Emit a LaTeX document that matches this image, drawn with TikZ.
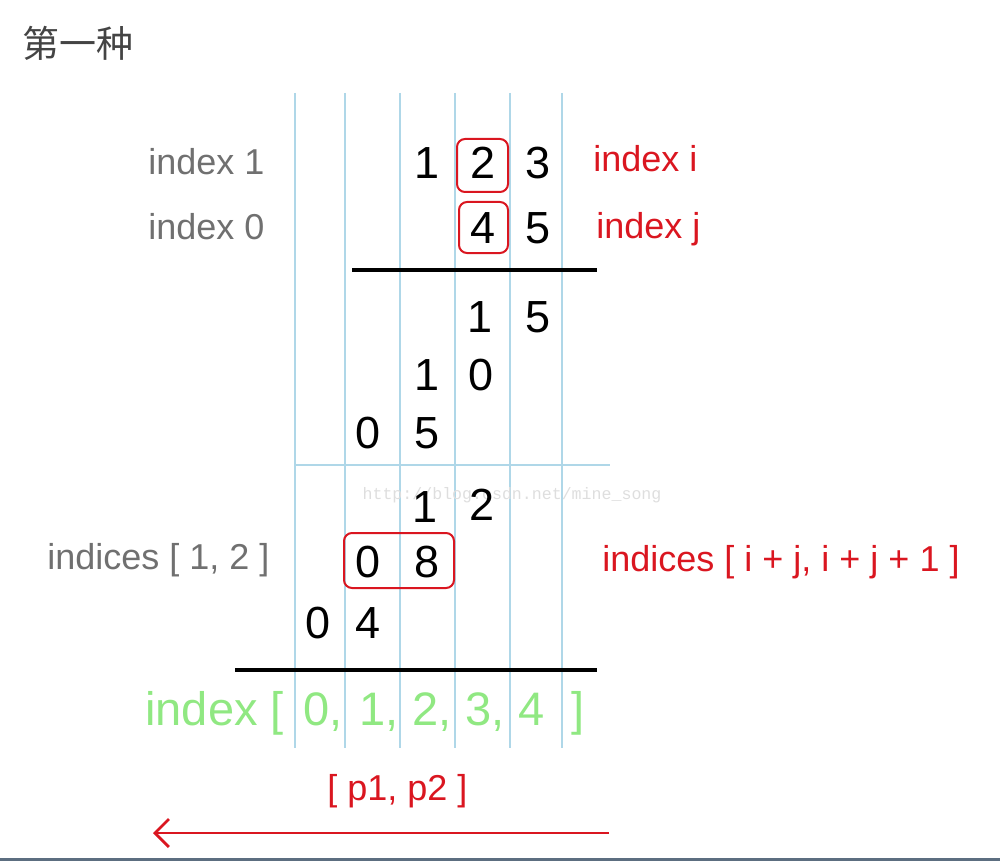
\documentclass[tikz,border=0pt]{standalone}
\usepackage{fontspec}
\setmainfont{Liberation Sans}
\newfontfamily\cjkfont{Noto Sans CJK SC}
\newfontfamily\urlfont{Liberation Mono}
\usetikzlibrary{arrows.meta}
\definecolor{gridblue}{RGB}{175,215,232}
\definecolor{markred}{RGB}{218,22,32}
\definecolor{labelgray}{RGB}{112,112,112}
\definecolor{idxgreen}{RGB}{144,232,130}
\definecolor{titlegray}{RGB}{68,68,68}
\definecolor{framebar}{RGB}{92,110,128}
\definecolor{markgray}{RGB}{222,222,222}
\tikzset{
    digit/.style={
        black,
        inner sep=0pt,
        font=\fontsize{22.5}{26}\selectfont
    },
    graylabel/.style={
        labelgray,
        anchor=base west,
        inner sep=0pt,
        font=\fontsize{18}{21}\selectfont
    },
    redlabel/.style={
        markred,
        anchor=base west,
        inner sep=0pt,
        font=\fontsize{18}{21}\selectfont
    },
    greenlabel/.style={
        idxgreen,
        anchor=base,
        inner sep=0pt,
        font=\fontsize{23.5}{28}\selectfont
    },
    gridline/.style={gridblue, line width=1pt},
    sumline/.style={black, line width=1.6pt},
    pickbox/.style={markred, line width=1pt, rounded corners=4pt},
    redarrow/.style={
        markred,
        line width=1.4pt,
        -{Straight Barb[length=7pt, width=14pt]}
    }
}

\begin{document}
\begin{tikzpicture}[x=0.5pt, y=-0.5pt]
    \useasboundingbox (0,0) rectangle (1000,861);
    \fill[framebar] (0,858) rectangle (1000,861);

    \node[titlegray, anchor=west, inner sep=0pt, font=\cjkfont\fontsize{18.5}{22}\selectfont] (title) at (22,43) {第一种};

    % grid
    \foreach \x in {295,345,400,455,510,562}
        \draw[gridline] (\x,93) -- (\x,748);
    \draw[gridline] (295,465) -- (610,465);

    % watermark
    \node[markgray, inner sep=0pt, font=\urlfont\fontsize{8.3}{10}\selectfont] (mark) at (512,495) {http://blog.csdn.net/mine\_song};

    % factors
    \node[digit] (a1) at (427,163) {1};
    \node[digit] (a2) at (483,163) {2};
    \node[digit] (a3) at (538,163) {3};
    \node[digit] (b4) at (483,228) {4};
    \node[digit] (b5) at (538,228) {5};
    \draw[sumline] (352,270) -- (597,270);

    % partial products
    \node[digit] (p15a) at (480,317) {1};
    \node[digit] (p15b) at (538,317) {5};
    \node[digit] (p10a) at (427,375) {1};
    \node[digit] (p10b) at (481,375) {0};
    \node[digit] (p05a) at (368,433) {0};
    \node[digit] (p05b) at (427,433) {5};
    \node[digit] (p12a) at (425,507) {1};
    \node[digit] (p12b) at (482,505) {2};
    \node[digit] (p08a) at (368,562) {0};
    \node[digit] (p08b) at (427,562) {8};
    \node[digit] (p04a) at (318,623) {0};
    \node[digit] (p04b) at (368,623) {4};
    \draw[sumline] (235,670) -- (597,670);

    \draw[pickbox] (457,139) rectangle (508,192);
    \draw[pickbox] (459,202) rectangle (508,253);
    \draw[pickbox] (344,533) rectangle (454,588);

    % labels
    \node[graylabel] (row1) at (148,175) {index 1};
    \node[graylabel] (row0) at (148,240) {index 0};
    \node[graylabel] (pair) at (47,569) {indices [ 1, 2 ]};
    \node[redlabel] (rowi) at (593,172) {index i};
    \node[redlabel] (rowj) at (596,239) {index j};
    \node[redlabel] (pairij) at (602,571) {indices [ i + j, i + j + 1 ]};

    % result index
    \node[greenlabel, anchor=base west] (idx) at (145,725) {index [};
    \node[greenlabel] (g0) at (323,725) {0,};
    \node[greenlabel] (g1) at (379,725) {1,};
    \node[greenlabel] (g2) at (432,725) {2,};
    \node[greenlabel] (g3) at (485,725) {3,};
    \node[greenlabel] (g4) at (532,725) {4};
    \node[greenlabel] (gend) at (578,725) {]};

    \node[redlabel] (pp) at (327,800) {[ p1, p2 ]};
    \coordinate (arrowstart) at (609,833);
    \coordinate (arrowend) at (153,833);
    \draw[redarrow] (arrowstart) -- (arrowend);
\end{tikzpicture}
\end{document}
